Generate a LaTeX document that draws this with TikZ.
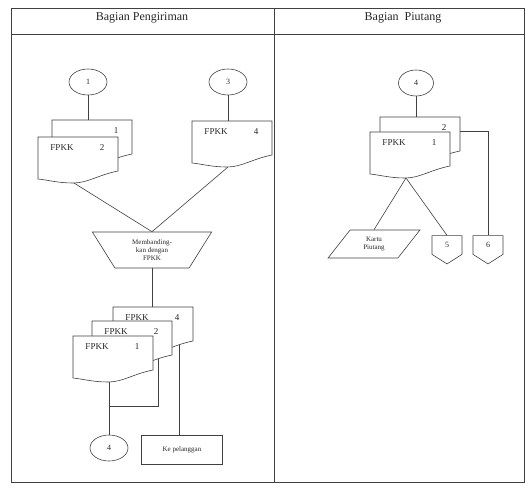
\documentclass[tikz,border=0pt]{standalone}
\usepackage{fontspec}
\setmainfont{Liberation Serif}
\usetikzlibrary{shapes.geometric,shapes.symbols}

\tikzset{
  txt/.style={font=\fontsize{9}{10}\selectfont, inner sep=0pt},
  small/.style={font=\fontsize{7}{8}\selectfont, align=center},
  conn/.style={draw, ellipse, minimum width=38pt, minimum height=26pt, inner sep=0pt, font=\fontsize{8}{9}\selectfont},
  offpage/.style={draw, signal, signal to=south, signal pointer angle=115, minimum width=30pt, minimum height=20pt, inner sep=0pt, font=\fontsize{8}{9}\selectfont},
  title/.style={font=\fontsize{12}{14}\selectfont},
  pics/docu/.style 2 args={code={
    \draw[fill=white] (0,0) -- (80,0) -- (80,34) .. controls (60,38) and (50,46) .. (35,46) .. controls (20,46) and (10,43) .. (0,42) -- cycle;
    \node[txt] (-lbl) at (24,11) {#1};
    \node[txt] (-no) at (64,11) {#2};
    \coordinate (-top) at (36,0);
    \coordinate (-bot) at (36,46);
    \coordinate (-br) at (66,38);
    \coordinate (-re) at (80,14);
  }}
}

\begin{document}
\begin{tikzpicture}[x=1pt, y=-1pt, draw=black!75, text=black!85, line width=0.6pt]
\useasboundingbox (0,0) rectangle (525,488);
% frame
\draw (11,8) rectangle (524,482);
\draw (11,34) -- (524,34);
\draw (274,8) -- (274,482);
\node[title] (tkirim) at (142,18) {Bagian Pengiriman};
\node[title] (tpiut) at (403,18) {Bagian \ Piutang};

% bagian pengiriman
\node[conn] (c1) at (88,82) {1};
\node[conn] (c3) at (228,82) {3};
\pic (dA1) at (52,120) {docu={}{1}};
\pic (dA2) at (38,137) {docu={FPKK}{2}};
\pic (dB) at (192,121) {docu={FPKK}{4}};
\node[draw, trapezium, shape border rotate=180, trapezium stretches=true, minimum width=120pt, minimum height=36pt, inner sep=0pt, small] (trap) at (152,250) {Membanding-\\kan dengan\\FPKK};
\pic (dS4) at (113,307) {docu={FPKK}{4}};
\pic (dS2) at (92,321) {docu={FPKK}{2}};
\pic (dS1) at (73,336) {docu={FPKK}{1}};
\node[conn] (c4l) at (109,448) {4};
\node[draw, minimum width=81pt, minimum height=29pt, small] (kp) at (182,450) {Ke pelanggan};
\coordinate (join) at (109,406);

\draw (c1) -- (dA1-top);
\draw (c3) -- (dB-top);
\draw (dA2-bot) -- (trap.north);
\draw (dB-bot) -- (trap.north);
\draw (trap.south) -- (trap.south |- dS4-top);
\draw (dS1-bot) -- (c4l);
\draw (dS2-br) |- (join);
\draw (dS4-br) -- (dS4-br |- kp.north);

% bagian piutang
\node[conn, minimum width=35pt] (c4r) at (416,83) {4};
\pic (dR2) at (380,117) {docu={}{2}};
\pic (dR1) at (370,132) {docu={FPKK}{1}};
\node[draw, trapezium, trapezium left angle=55, trapezium right angle=125, trapezium stretches=true, minimum width=92pt, minimum height=28pt, inner sep=0pt, small] (kartu) at (374,244) {Kartu\\Piutang};
\node[offpage] (off5) at (447,245) {5};
\node[offpage] (off6) at (488,245) {6};

\draw (c4r) -- (dR2-top);
\draw (dR2-re) -| (off6.north);
\draw (dR1-bot) -- (kartu.north);
\draw (dR1-bot) -- (off5.north);
\end{tikzpicture}
\end{document}
